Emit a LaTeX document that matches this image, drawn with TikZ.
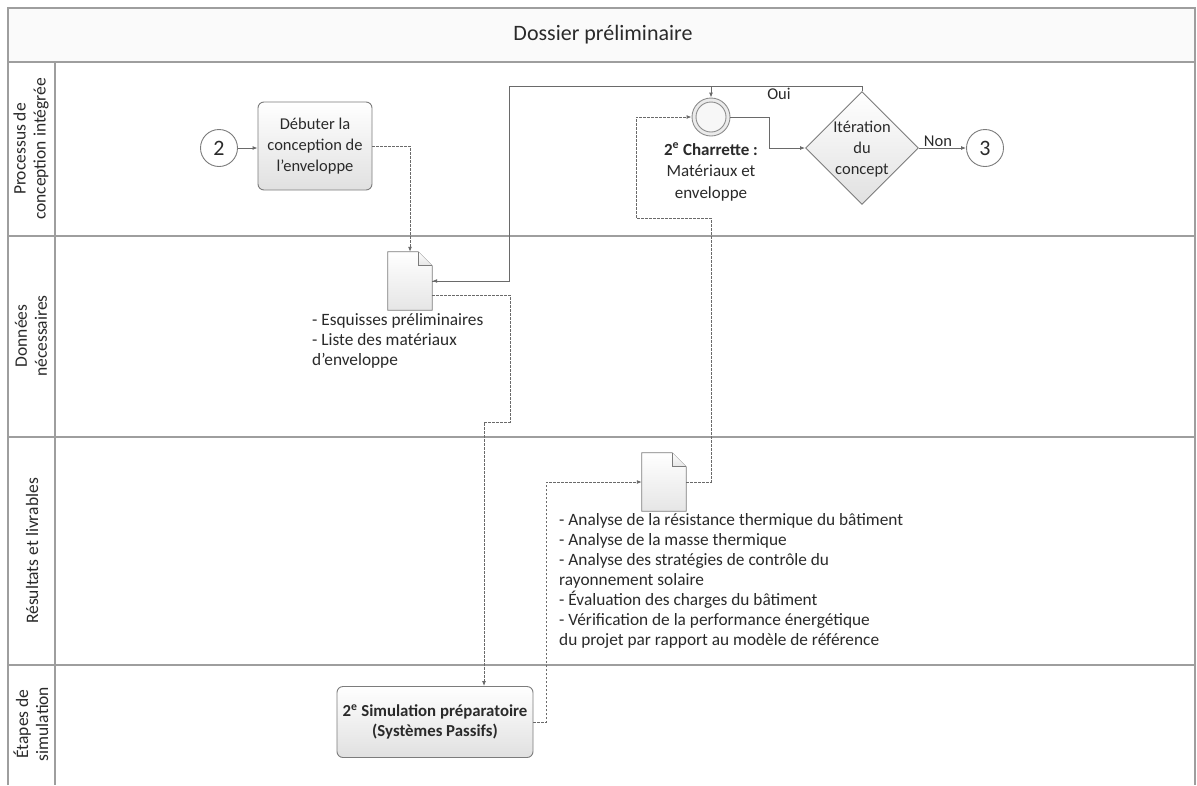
\documentclass[tikz,border=0pt]{standalone}
\usepackage{fontspec}
\setmainfont{Carlito}
\usetikzlibrary{shapes.geometric,arrows.meta,calc}
\definecolor{lanegray}{HTML}{9E9E9E}
\definecolor{linegray}{HTML}{6A6A6A}
\definecolor{boxborder}{HTML}{7C7C7C}
\definecolor{txtgray}{HTML}{2A2A2A}
\newcommand\docshape[1]{%
  \draw[docline] (#1.north west) -- ([xshift=-14pt]#1.north east) -- ([yshift=-14pt]#1.north east) -- (#1.south east) -- (#1.south west) -- cycle;
  \draw[docline, fill=none] ([xshift=-14pt]#1.north east) |- ([yshift=-14pt]#1.north east);}
\begin{document}
\begin{tikzpicture}[x=1pt,y=-1pt,
  lane/.style={draw=lanegray, line width=1.6pt},
  txt/.style={text=txtgray, font=\fontsize{17.3}{20}\selectfont},
  lanelbl/.style={text=txtgray, font=\fontsize{17.5}{20}\selectfont, rotate=90, align=center},
  task/.style={draw=boxborder, line width=0.9pt, rounded corners=6pt, top color=white, bottom color=black!12, align=center, inner sep=2pt},
  ecirc/.style={circle, draw=boxborder, line width=0.9pt, fill=white, minimum size=37pt, inner sep=0pt, font=\fontsize{22}{24}\selectfont, text=txtgray},
  docn/.style={minimum width=44pt, minimum height=58pt, inner sep=0pt},
  docline/.style={draw=boxborder, line width=0.8pt, top color=white, bottom color=black!10},
  conn/.style={draw=linegray, line width=0.9pt, -{Latex[length=5pt,width=4pt]}},
  dconn/.style={conn, dash pattern=on 2.5pt off 1.5pt}
]
\useasboundingbox (0,0) rectangle (1197,785);
\fill[white] (0,0) rectangle (1197,785);
\fill[black!2] (8,8) rectangle (1195,62);
% frame and lanes
\draw[lane] (8,785) -- (8,8) -- (1195,8) -- (1195,785);
\draw[lane] (8,62) -- (1195,62);
\draw[lane] (55,62) -- (55,785);
\draw[lane] (8,236) -- (1195,236);
\draw[lane] (8,437) -- (1195,437);
\draw[lane] (8,665) -- (1195,665);
\node[text=txtgray, font=\fontsize{22}{24}\selectfont] (title) at (603,35) {Dossier préliminaire};
\node[lanelbl] (l1) at (31,149) {Processus de\\conception intégrée};
\node[lanelbl] (l2) at (31,336) {Données\\nécessaires};
\node[lanelbl] (l3) at (32,551) {Résultats et livrables};
\node[lanelbl] (l4) at (31,724) {Étapes de\\simulation};

% nodes
\node[ecirc] (c2) at (219,148) {2};
\node[task, txt, font=\fontsize{16.5}{21}\selectfont, minimum width=114pt, minimum height=88pt] (deb) at (315,146) {Débuter la\\conception de\\l’enveloppe};
\node[docn] (d1) at (410,281) {};
\docshape{d1}
\node[txt, anchor=north west, align=left, inner sep=0pt] (t1) at (312,313) {- Esquisses préliminaires\\- Liste des matériaux\\d’enveloppe};

\node[circle, draw=black!45, line width=0.9pt, fill=black!8, minimum size=38pt, inner sep=0pt] (ch) at (711,117) {};
\node[circle, draw=black!45, line width=0.9pt, fill=black!3, minimum size=30pt, inner sep=0pt] (chi) at (ch) {};
\node[txt, align=center, font=\fontsize{17}{21.5}\selectfont] (chl) at (711,172) {\textbf{2\textsuperscript{e} Charrette :}\\Matériaux et\\enveloppe};

\node[diamond, draw=boxborder, line width=0.9pt, top color=white, bottom color=black!12, minimum width=113pt, minimum height=113pt, inner sep=0pt] (it) at (862,148) {};
\node[txt, align=center, font=\fontsize{16.5}{21}\selectfont] (itt) at (862,149) {Itération\\du\\concept};
\node[ecirc] (c3) at (985,148) {3};

\node[docn] (d2) at (664,482) {};
\docshape{d2}
\node[txt, anchor=north west, align=left, inner sep=0pt] (t2) at (559,513) {- Analyse de la résistance thermique du bâtiment\\- Analyse de la masse thermique\\- Analyse des stratégies de contrôle du\\rayonnement solaire\\- Évaluation des charges du bâtiment\\- Vérification de la performance énergétique\\du projet par rapport au modèle de référence};

\node[task, minimum width=196pt, minimum height=71pt, font=\bfseries\fontsize{16.8}{20}\selectfont, text=txtgray, inner sep=0pt] (sim) at (435,722) {2\textsuperscript{e} Simulation préparatoire\\(Systèmes Passifs)};

% connector waypoints
\coordinate (tl) at (509,86);
\coordinate (oc) at (862,86);
\coordinate (dr) at (711,218);
\coordinate (dl) at (636,218);
\coordinate (a1) at (510,422);
\coordinate (a2) at (484,422);

% connectors
\draw[conn] (c2.east) -- (c2.east -| deb.west);
\draw[dconn] (deb.east) -| (d1.north);
\draw[conn] (it.north) -- (oc) -| (tl) |- (d1.east);
\draw[conn] (d1.east) -| (tl) -| (ch.north);
\node[txt, font=\fontsize{16.5}{18}\selectfont] (oui) at (779,94) {Oui};
\draw[conn] (ch.east) -- ++(39,0) |- (it.west);
\draw[conn] (it.east) -- (c3.west);
\node[txt, font=\fontsize{16.5}{18}\selectfont] (non) at (938,141) {Non};
\draw[dconn] (d2.east) -| (dr) -- (dl) |- (ch.west);
\draw[dconn] ([yshift=-14pt]d1.east) -| (a1) -- (a2) -- (a2 |- sim.north);
\draw[dconn] (sim.east) -- ++(13,0) |- (d2.west);
\end{tikzpicture}
\end{document}
